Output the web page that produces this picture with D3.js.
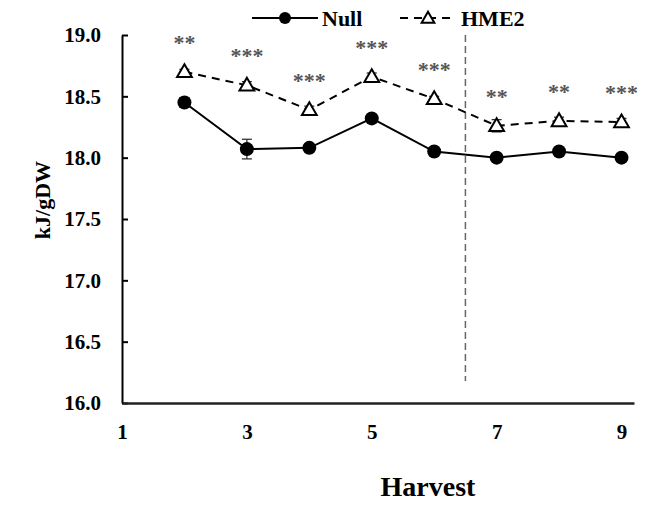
<!DOCTYPE html>
<html>
<head>
<meta charset="utf-8">
<script src="https://cdn.jsdelivr.net/npm/d3@7"></script>
<style>
  body { margin: 0; background: #fff; }
  text { font-family: "Liberation Serif", "Times New Roman", serif; font-weight: bold; }
</style>
</head>
<body>
<div id="chart"></div>
<script>
var harvest = [2, 3, 4, 5, 6, 7, 8, 9];
var nullVals = [18.45, 18.07, 18.08, 18.32, 18.05, 18.00, 18.05, 18.00];
var nullErr  = [0.04, 0.08, 0.02, 0.02, 0.02, 0.03, 0.02, 0.02];
var hmeVals  = [18.70, 18.59, 18.39, 18.66, 18.48, 18.26, 18.30, 18.29];
var hmeErr   = [0.02, 0.03, 0.03, 0.03, 0.02, 0.05, 0.03, 0.03];
var stars    = ["**", "***", "***", "***", "***", "**", "**", "***"];
var xTicks = [1, 3, 5, 7, 9];
var yTicks = [16.0, 16.5, 17.0, 17.5, 18.0, 18.5, 19.0];
var splitAt = 6.5;

var W = 653, H = 505;
var margin = {top: 35, right: 19, bottom: 102, left: 122};
var width = W - margin.left - margin.right;
var height = H - margin.top - margin.bottom;

var x = d3.scaleLinear().domain([1, 9.2]).range([0, width]);
var y = d3.scaleLinear().domain([16, 19]).range([height, 0]);

var svg = d3.select("#chart").append("svg")
    .attr("width", W).attr("height", H)
  .append("g")
    .attr("transform", "translate(" + margin.left + "," + margin.top + ")");

// y axis, ticks pointing inward
var yAxis = svg.append("g")
  .call(d3.axisLeft(y).tickValues(yTicks).tickSizeInner(-6).tickSizeOuter(0)
        .tickPadding(21).tickFormat(d3.format(".1f")));
yAxis.select(".domain").attr("stroke-width", 2);
yAxis.selectAll(".tick line").attr("stroke-width", 2);
yAxis.selectAll("text").style("font-size", "21px").attr("fill", "#000");

// x axis, no ticks
var xAxis = svg.append("g")
  .attr("transform", "translate(0," + height + ")")
  .call(d3.axisBottom(x).tickValues(xTicks).tickSize(0).tickPadding(21).tickFormat(d3.format("d")));
xAxis.select(".domain").attr("stroke-width", 2.5).attr("stroke", "#222");
xAxis.selectAll("text").style("font-size", "21px").attr("fill", "#000");

// dashed split line
svg.append("line")
  .attr("x1", x(splitAt)).attr("x2", x(splitAt))
  .attr("y1", y(19)).attr("y2", y(16.18))
  .attr("stroke", "#666").attr("stroke-width", 1.5)
  .attr("stroke-dasharray", "7,4");

var nullData = harvest.map(function(h, i) { return {x: h, y: nullVals[i], e: nullErr[i]}; });
var hmeData = harvest.map(function(h, i) { return {x: h, y: hmeVals[i], e: hmeErr[i]}; });

var line = d3.line().x(function(d) { return x(d.x); }).y(function(d) { return y(d.y); });

svg.append("path").datum(hmeData)
  .attr("fill", "none").attr("stroke", "#000").attr("stroke-width", 2)
  .attr("stroke-dasharray", "8,6").attr("d", line);

svg.append("path").datum(nullData)
  .attr("fill", "none").attr("stroke", "#000").attr("stroke-width", 2)
  .attr("d", line);

function errorBars(data) {
  var g = svg.append("g").attr("stroke", "#333").attr("stroke-width", 1.3);
  data.forEach(function(d) {
    g.append("line").attr("x1", x(d.x)).attr("x2", x(d.x))
      .attr("y1", y(d.y + d.e)).attr("y2", y(d.y - d.e));
    [d.y + d.e, d.y - d.e].forEach(function(v) {
      g.append("line").attr("x1", x(d.x) - 5).attr("x2", x(d.x) + 5)
        .attr("y1", y(v)).attr("y2", y(v));
    });
  });
}
errorBars(nullData);
errorBars(hmeData);

var tri = d3.symbol().type(d3.symbolTriangle).size(95);

svg.selectAll(".hme").data(hmeData).enter().append("path")
  .attr("transform", function(d) { return "translate(" + x(d.x) + "," + (y(d.y) + 1) + ")"; })
  .attr("d", tri).attr("fill", "#fff").attr("stroke", "#000").attr("stroke-width", 2);

svg.selectAll(".nul").data(nullData).enter().append("circle")
  .attr("cx", function(d) { return x(d.x); })
  .attr("cy", function(d) { return y(d.y); })
  .attr("r", 7).attr("fill", "#000");

// significance stars
svg.selectAll(".star").data(hmeData).enter().append("text")
  .attr("x", function(d) { return x(d.x); })
  .attr("y", function(d) { return y(d.y) - 22; })
  .attr("text-anchor", "middle")
  .style("font-size", "22px").attr("fill", "#555")
  .text(function(d, i) { return stars[i]; });

// legend
var lg = svg.append("g").attr("transform", "translate(0," + (-17) + ")");
lg.append("line").attr("x1", 130).attr("x2", 196).attr("y1", 0).attr("y2", 0)
  .attr("stroke", "#000").attr("stroke-width", 2);
lg.append("circle").attr("cx", 163).attr("cy", 0).attr("r", 6).attr("fill", "#000");
lg.append("text").attr("x", 200).attr("y", 8).style("font-size", "22px").text("Null");
lg.append("line").attr("x1", 278).attr("x2", 334).attr("y1", 0).attr("y2", 0)
  .attr("stroke", "#000").attr("stroke-width", 2).attr("stroke-dasharray", "8,6");
lg.append("path").attr("transform", "translate(306,1)").attr("d", d3.symbol().type(d3.symbolTriangle).size(70))
  .attr("fill", "#fff").attr("stroke", "#000").attr("stroke-width", 2);
lg.append("text").attr("x", 339).attr("y", 8).style("font-size", "22px").text("HME2");

// axis titles
svg.append("text")
  .attr("transform", "translate(" + (-72) + "," + (y(17.5) - 19) + ") rotate(-90)")
  .attr("text-anchor", "middle").style("font-size", "22px").text("kJ/gDW");

svg.append("text")
  .attr("x", x(5.9)).attr("y", height + 93)
  .attr("text-anchor", "middle").style("font-size", "28px").text("Harvest");
</script>
</body>
</html>
